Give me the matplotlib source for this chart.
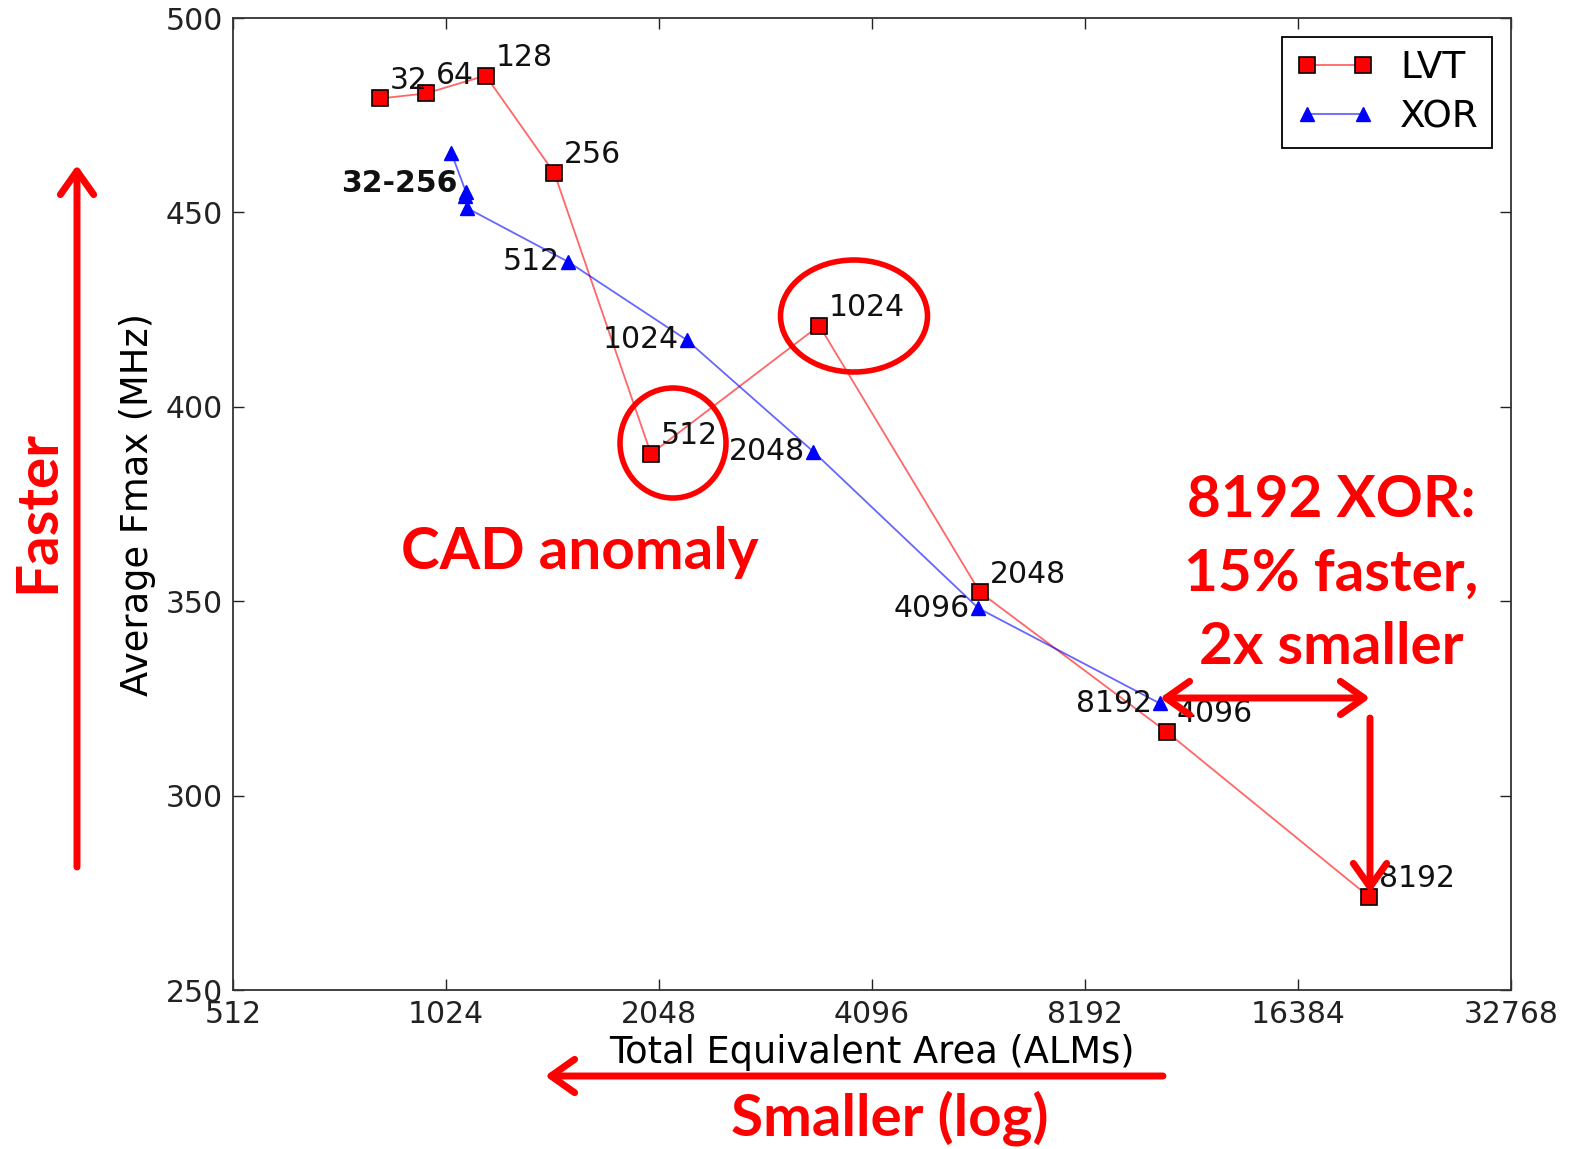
import matplotlib
matplotlib.use("Agg")
import matplotlib.pyplot as plt
from matplotlib.patches import Ellipse, FancyArrowPatch

# data
sizes = ["32", "64", "128", "256", "512", "1024", "2048", "4096", "8192"]
lvt_area = [826, 959, 1165, 1457, 1995, 3450, 5821, 10686, 20640]
lvt_fmax = [479.3, 480.6, 485.2, 460.1, 387.9, 420.9, 352.3, 316.4, 274.0]
xor_area = [1042, 1093, 1090, 1097, 1524, 2241, 3383, 5790, 10456]
xor_fmax = [465.3, 455.2, 454.3, 451.1, 437.3, 417.2, 388.5, 348.2, 323.7]
xticks = [512, 1024, 2048, 4096, 8192, 16384, 32768]
yticks = [250, 300, 350, 400, 450, 500]

W, H = 1571, 1149
fig = plt.figure(figsize=(W / 100, H / 100), dpi=100)
ax = fig.add_axes([233 / W, 1 - 990 / H, (1511 - 233) / W, (990 - 18) / H])

ax.plot(lvt_area, lvt_fmax, '-s', color=(1, 0, 0, 0.6), lw=1.3,
        mfc='red', mec='black', mew=1.2, ms=11, label='LVT')
ax.plot(xor_area, xor_fmax, '-^', color=(0, 0, 1, 0.6), lw=1.3,
        mfc='blue', mec='blue', ms=10, label='XOR')

ax.set_xscale('log', base=2)
ax.set_xlim(512, 32768)
ax.set_ylim(250, 500)
ax.set_xticks(xticks)
ax.set_xticklabels([str(t) for t in xticks])
ax.set_yticks(yticks)
ax.minorticks_off()
ax.tick_params(direction='in', length=8, width=1, labelsize=21.5,
               top=True, right=True, pad=7, colors='#222222')
for s in ax.spines.values():
    s.set_linewidth(1.3)
    s.set_color('#333333')
ax.set_xlabel("Total Equivalent Area (ALMs)", fontsize=26.5, labelpad=4)
ax.set_ylabel("Average Fmax (MHz)", fontsize=26.5, labelpad=7)

# point labels
for i, lab in enumerate(sizes):
    ax.annotate(lab, (lvt_area[i], lvt_fmax[i]), xytext=(7, 7),
                textcoords='offset points', ha='left', va='baseline',
                fontsize=21.5, color='#111111')
for i, lab in enumerate(sizes):
    if i < 4:
        continue
    ax.annotate(lab, (xor_area[i], xor_fmax[i]), xytext=(-6, 0),
                textcoords='offset points', ha='right', va='center',
                fontsize=21.5, color='#111111')
ax.annotate("32-256", (xor_area[1], xor_fmax[1]), xytext=(-6, 6),
            textcoords='offset points', ha='right', va='center',
            fontsize=21.5, fontweight='bold', color='#111111')

leg = ax.legend(loc='upper right', fontsize=27, numpoints=2, fancybox=False,
                edgecolor='black', framealpha=1, borderaxespad=0.5,
                handlelength=2.1, handletextpad=0.7, labelspacing=0.35,
                borderpad=0.35)
leg.get_frame().set_linewidth(1.3)


# red slide annotations, placed in figure pixels
def fx(x):
    return x / W


def fy(y):
    return 1 - y / H


red = '#ff0000'
ann = dict(color=red, fontweight='bold', family='Lato', fontsize=42,
           ha='center', va='center')
fig.text(fx(38), fy(512), "Faster", rotation=90, **ann)
fig.text(fx(580), fy(553), "CAD anomaly", **ann)
fig.text(fx(890), fy(1118), "Smaller (log)", **ann)
fig.text(fx(1331), fy(574), "8192 XOR:\n15% faster,\n2x smaller",
         linespacing=1.47, **ann)

for cx, cy, w, h in [(673, 443, 106, 110), (854, 316, 147, 112)]:
    fig.patches.append(Ellipse((fx(cx), fy(cy)), w / W, h / H, fill=False,
                               ec=red, lw=4, transform=fig.transFigure))


def arrow(x0, y0, x1, y1, style='->'):
    fig.patches.append(FancyArrowPatch(
        (fx(x0), fy(y0)), (fx(x1), fy(y1)), transform=fig.transFigure,
        arrowstyle=style + ',head_length=17,head_width=12',
        mutation_scale=1, color=red, lw=5, shrinkA=0, shrinkB=0))


arrow(77, 867, 77, 165)
arrow(1163, 1076, 545, 1076)
arrow(1370, 698, 1160, 698, style='<->')
arrow(1370, 718, 1370, 893)

fig.savefig("out.png", dpi=100)
